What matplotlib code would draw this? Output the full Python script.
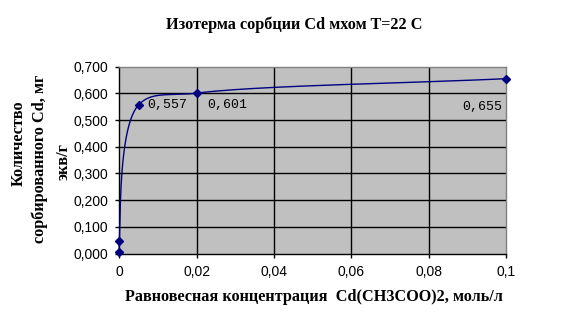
import numpy as np
import matplotlib
matplotlib.use("Agg")
import matplotlib.pyplot as plt

# data
conc = [0.0, 0.0, 0.005, 0.02, 0.1]
sorbed = [0.004, 0.046, 0.557, 0.601, 0.655]
# data labels: point index -> offset in pixels (dx, dy) and alignment
labels = {2: (9, 0, "left"), 3: (11, -12, "left"), 4: (-4, -28, "right")}
xticks = [0, 0.02, 0.04, 0.06, 0.08, 0.1]
xtick_labels = ["0", "0,02", "0,04", "0,06", "0,08", "0,1"]
yticks = [0, 0.1, 0.2, 0.3, 0.4, 0.5, 0.6, 0.7]
ytick_labels = ["0,000", "0,100", "0,200", "0,300", "0,400", "0,500", "0,600", "0,700"]

NAVY = "#000080"
SERIF = "Liberation Serif"


def smooth(ax, xs, ys, n=60, alpha=0.5):
    """Smoothed line (centripetal Catmull-Rom as Bezier) built in display space."""
    P = ax.transData.transform(np.column_stack([xs, ys]))
    # drop exact duplicates so the spline parameter stays finite
    keep = [0] + [i for i in range(1, len(P)) if np.linalg.norm(P[i] - P[i - 1]) > 1e-9]
    P = P[keep]
    dt = np.linalg.norm(np.diff(P, axis=0), axis=1) ** alpha
    m = np.zeros_like(P)
    m[0] = (P[1] - P[0]) / dt[0]
    m[-1] = (P[-1] - P[-2]) / dt[-1]
    for i in range(1, len(P) - 1):
        m[i] = ((P[i] - P[i - 1]) / dt[i - 1] - (P[i + 1] - P[i - 1]) / (dt[i - 1] + dt[i])
                + (P[i + 1] - P[i]) / dt[i])
    out = [P[0]]
    t = np.linspace(0, 1, n)[1:, None]
    for i in range(len(P) - 1):
        p1, p2 = P[i], P[i + 1]
        c1 = p1 + m[i] * dt[i] / 3
        c2 = p2 - m[i + 1] * dt[i] / 3
        seg = (1 - t) ** 3 * p1 + 3 * (1 - t) ** 2 * t * c1 + 3 * (1 - t) * t ** 2 * c2 + t ** 3 * p2
        out.extend(seg)
    return ax.transData.inverted().transform(np.array(out))


fig = plt.figure(figsize=(5.88, 3.2), dpi=100)
ax = fig.add_axes([119.3 / 588, 1 - 253.5 / 320, 386.5 / 588, 186.8 / 320])
ax.set_facecolor("#C0C0C0")
ax.set_xlim(0, 0.1)
ax.set_ylim(0, 0.7)

for v in xticks[1:-1]:
    ax.axvline(v, color="black", lw=1, zorder=1)
for v in yticks[1:-1]:
    ax.axhline(v, color="black", lw=1, zorder=1)

curve = smooth(ax, conc, sorbed)
ax.plot(curve[:, 0], curve[:, 1], color=NAVY, lw=1, zorder=3, clip_on=False)
ax.plot(conc, sorbed, ls="none", marker="D", ms=4.5, color=NAVY, zorder=4, clip_on=False)

for i, (dx, dy, ha) in labels.items():
    ax.annotate(f"{sorbed[i]:.3f}".replace(".", ","), (conc[i], sorbed[i]),
                xytext=(dx, dy), textcoords="offset pixels", ha=ha, va="center",
                family="Liberation Mono", fontsize=9.5)

ax.set_xticks(xticks)
ax.set_xticklabels(xtick_labels, family="Liberation Sans", fontsize=10)
ax.set_yticks(yticks)
ax.set_yticklabels(ytick_labels, family="Liberation Sans", fontsize=10)
ax.tick_params(direction="out", length=3, width=1, color="black", pad=5)

for side in ["top", "right"]:
    ax.spines[side].set_color("#808080")
for side in ["left", "bottom"]:
    ax.spines[side].set_color("black")
for s in ax.spines.values():
    s.set_linewidth(1)

fig.text(294 / 588, 1 - 25 / 320, "Изотерма сорбции Cd мхом T=22 C", ha="center", va="center",
         family=SERIF, fontweight="bold", fontsize=11.7)
fig.text(314 / 588, 1 - 297 / 320, "Равновесная концентрация  Cd(CH3COO)2, моль/л", ha="center",
         va="center", family=SERIF, fontweight="bold", fontsize=11.7)
fig.text(19 / 588, 1 - 143 / 320, "Количество", rotation=90, ha="center", va="center",
         family=SERIF, fontweight="bold", fontsize=11.7)
fig.text(40 / 588, 1 - 159 / 320, "сорбированного Cd, мг", rotation=90, ha="center", va="center",
         family=SERIF, fontweight="bold", fontsize=11.7)
fig.text(64 / 588, 1 - 162 / 320, "экв/г", rotation=90, ha="center", va="center",
         family=SERIF, fontweight="bold", fontsize=11.7)

fig.savefig("out.png", dpi=100)
